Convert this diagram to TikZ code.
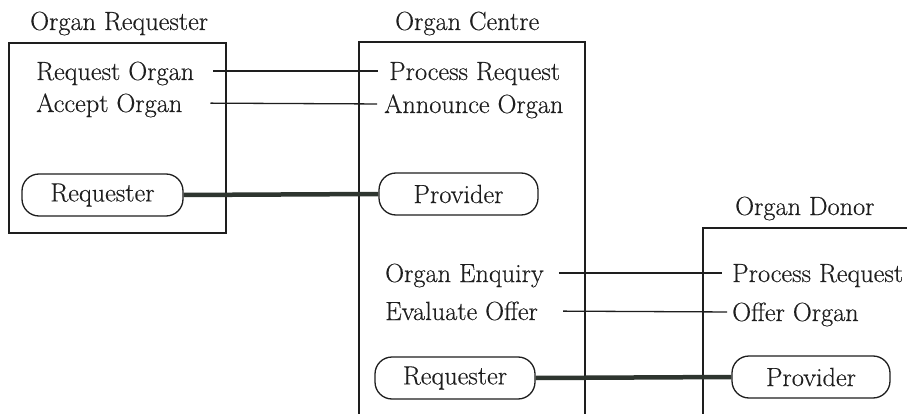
\documentclass[tikz,border=0pt]{standalone}
\usepackage{fontspec}
% a slightly heavier stroke for the labels
\setmainfont{Latin Modern Roman}[BoldFont=Latin Modern Roman, BoldFeatures={FakeBold=0.35}]
\definecolor{ink}{HTML}{1E1E1E}
\definecolor{wire}{HTML}{2E352F}
\begin{document}
\begin{tikzpicture}[x=1pt,y=-1pt,
  txt/.style={font=\fontsize{26.3}{30}\selectfont\bfseries, text=ink},
  lbl/.style={txt, anchor=base west, inner sep=0pt, text height=20pt, text depth=2pt},
  frame/.style={draw=ink, line width=1.4pt, inner sep=0pt},
  pill/.style={txt, draw=ink, line width=1.3pt, rounded corners=17pt,
    minimum height=42pt, inner sep=0pt},
  link/.style={draw=ink, line width=1.3pt},
  bind/.style={draw=wire, line width=4.5pt}]

% page area
\fill[white] (0,0) rectangle (907,414);
\useasboundingbox (0,0) rectangle (907,414);
\clip (0,0) rectangle (907,414);

% component frames (centre and donor run past the lower edge)
\node[frame, minimum width=217pt, minimum height=190pt] (boxR) at (117.5,138) {};
\node[frame, minimum width=226pt, minimum height=400pt] (boxC) at (472,242) {};
\node[frame, minimum width=240pt, minimum height=220pt] (boxD) at (823,338) {};

% component titles
\node[lbl] (tR) at (30,30) {Organ Requester};
\node[lbl] (tC) at (395,30) {Organ Centre};
\node[lbl] (tD) at (735,215) {Organ Donor};

% operations
\node[lbl] (ro) at (36,80) {Request Organ};
\node[lbl] (ao) at (36,112) {Accept Organ};
\node[lbl] (pr) at (389,80) {Process Request};
\node[lbl] (an) at (384,113) {Announce Organ};
\node[lbl] (oe) at (385,282) {Organ Enquiry};
\node[lbl] (ev) at (385,320) {Evaluate Offer};
\node[lbl] (pd) at (732,282) {Process Request};
\node[lbl] (of) at (732,321) {Offer Organ};

% roles
\node[pill, minimum width=161pt] (reqL) at (102.5,195) {Requester};
\node[pill, minimum width=159pt] (provC) at (458.5,194) {Provider};
\node[pill, minimum width=160pt] (reqC) at (455,378) {Requester};
\node[pill, minimum width=158pt] (provD) at (811,377) {Provider};

% operation links
\draw[link, shorten <=19pt, shorten >=11pt] (ro.east) -- (pr.west);
\draw[link, shorten <=28pt, shorten >=7pt] (ao.east) -- (an.west);
\draw[link, shorten <=15pt, shorten >=10pt] (oe.east) -- (pd.west);
\draw[link, shorten <=25pt, shorten >=5pt] (ev.east) -- (of.west);

% role bindings
\draw[bind] (reqL.east) -- (provC.west);
\draw[bind] (reqC.east) -- (provD.west);
\end{tikzpicture}
\end{document}
